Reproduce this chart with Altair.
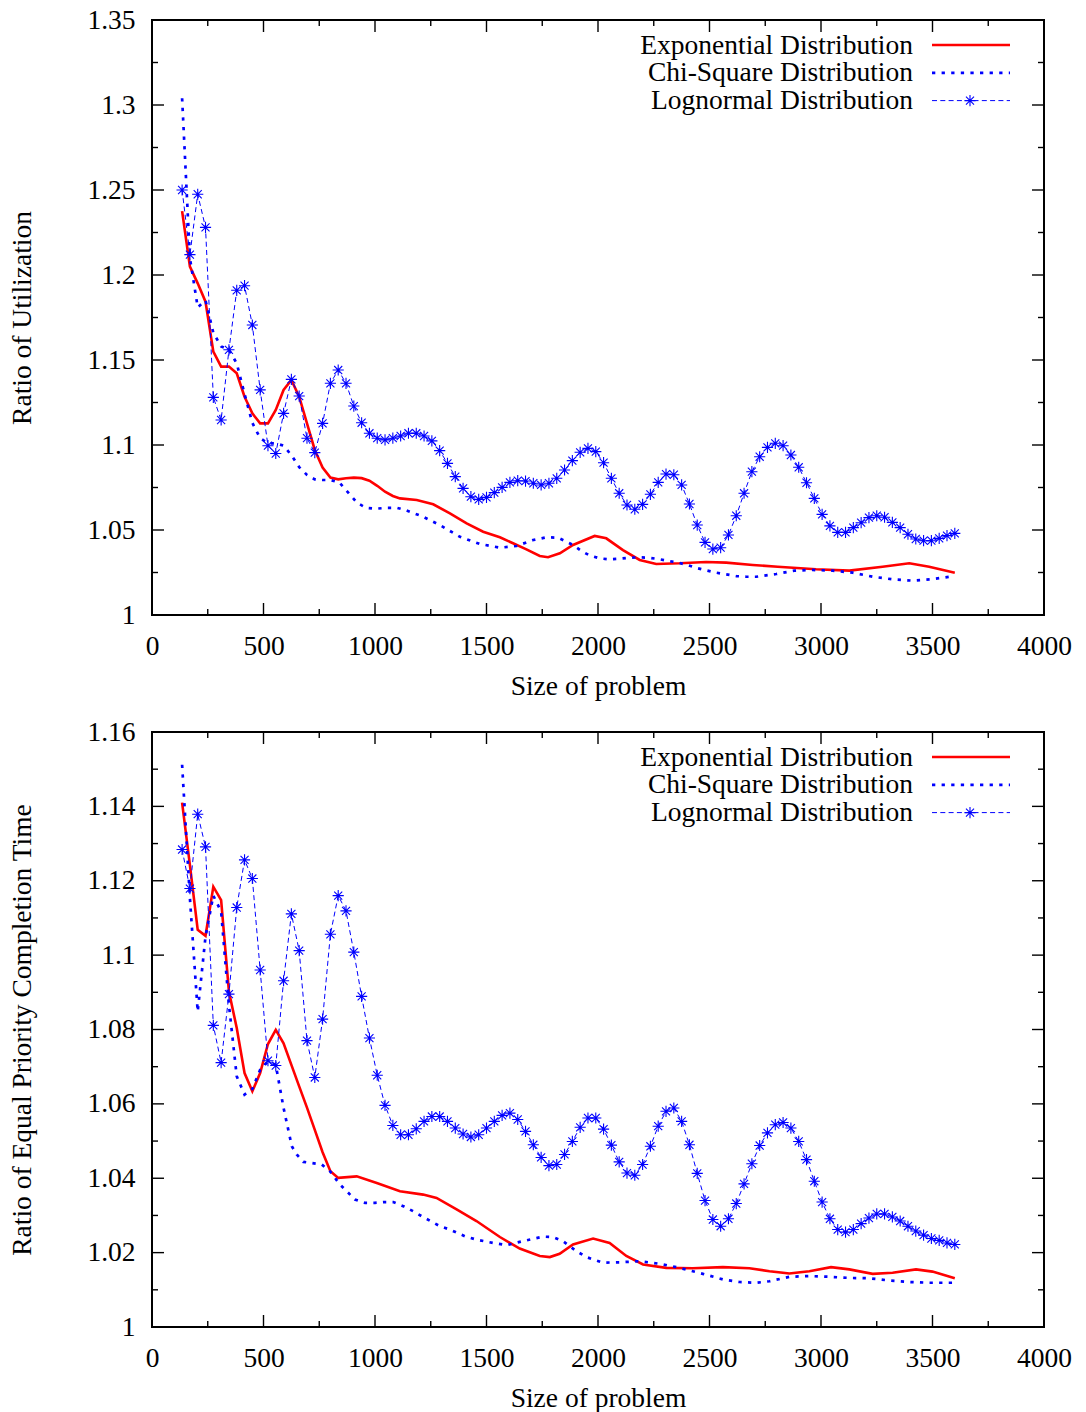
import altair as alt
import pandas as pd

# ---------------- data ----------------
X_GRID = [135, 170, 205, 240, 275, 310, 345, 380, 415, 450, 485, 520, 555, 590, 625,
          660, 695, 730, 765, 800, 835, 870, 905, 940, 975, 1010, 1045, 1080, 1115, 1150,
          1185, 1220, 1255, 1290, 1325, 1360, 1395, 1430, 1465, 1500, 1535, 1570, 1605,
          1640, 1675, 1710, 1745, 1780, 1815, 1850, 1885, 1920, 1955, 1990, 2025, 2060,
          2095, 2130, 2165, 2200, 2235, 2270, 2305, 2340, 2375, 2410, 2445, 2480, 2515,
          2550, 2585, 2620, 2655, 2690, 2725, 2760, 2795, 2830, 2865, 2900, 2935, 2970,
          3005, 3040, 3075, 3110, 3145, 3180, 3215, 3250, 3285, 3320, 3355, 3390, 3425,
          3460, 3495, 3530, 3565, 3600]

SERIES = ["Exponential Distribution", "Chi-Square Distribution", "Lognormal Distribution"]

X_TICKS = [0, 500, 1000, 1500, 2000, 2500, 3000, 3500, 4000]
X_MINOR = [250, 750, 1250, 1750, 2250, 2750, 3250, 3750]

TOP_Y_TICKS = [1, 1.05, 1.1, 1.15, 1.2, 1.25, 1.3, 1.35]
TOP_Y_MINOR = [1.025, 1.075, 1.125, 1.175, 1.225, 1.275, 1.325]
BOT_Y_TICKS = [1, 1.02, 1.04, 1.06, 1.08, 1.1, 1.12, 1.14, 1.16]
BOT_Y_MINOR = [1.01, 1.03, 1.05, 1.07, 1.09, 1.11, 1.13, 1.15]

TOP_TITLE = "Ratio of Utilization"
BOT_TITLE = "Ratio of Equal Priority Completion Time"
X_TITLE = "Size of problem"

# top panel
TOP_EXP_X = [135, 170, 205, 240, 275, 310, 345, 380, 415, 450, 485, 520, 555, 590, 625, 660,
             695, 730, 765, 800, 835, 870, 905, 940, 975, 1010, 1045, 1080, 1112, 1187, 1261,
             1336, 1411, 1485, 1560, 1619, 1679, 1739, 1776, 1829, 1888, 1985, 2037, 2112,
             2187, 2261, 2366, 2485, 2575, 2694, 2806, 2978, 3127, 3276, 3396, 3485, 3600]
TOP_EXP_Y = [1.2376, 1.2049, 1.1951, 1.1843, 1.1549, 1.1461, 1.1461, 1.1422, 1.1284, 1.1186,
             1.1127, 1.1127, 1.1206, 1.1324, 1.1382, 1.1284, 1.1127, 1.0971, 1.0867, 1.0808,
             1.0798, 1.0804, 1.0808, 1.0805, 1.079, 1.076, 1.0725, 1.070, 1.0686, 1.0676,
             1.0651, 1.0598, 1.0539, 1.049, 1.0457, 1.0422, 1.0386, 1.0347, 1.034, 1.0363,
             1.0412, 1.0465, 1.0451, 1.0382, 1.0324, 1.030, 1.0304, 1.0312, 1.0308, 1.0294,
             1.0284, 1.0269, 1.0261, 1.0284, 1.0304, 1.0284, 1.0249]

TOP_CHI_X = [135, 170, 205, 240, 275, 310, 345, 380, 415, 450, 485, 520, 555, 590, 625, 660,
             695, 730, 765, 800, 840, 880, 920, 960, 1000, 1050, 1100, 1134, 1216, 1291, 1381,
             1470, 1560, 1635, 1709, 1769, 1821, 1888, 1926, 1963, 2008, 2052, 2097, 2139,
             2184, 2228, 2272, 2317, 2359, 2400, 2443, 2485, 2530, 2575, 2620, 2665, 2709,
             2754, 2799, 2881, 2963, 3052, 3142, 3232, 3321, 3411, 3493, 3600]
TOP_CHI_Y = [1.304, 1.21, 1.181, 1.185, 1.166, 1.158, 1.156, 1.148, 1.130, 1.113, 1.104,
             1.101, 1.101, 1.0996, 1.094, 1.087, 1.0824, 1.0798, 1.0794, 1.0794, 1.078,
             1.072, 1.066, 1.063, 1.0625, 1.063, 1.063, 1.0618, 1.0578, 1.0529, 1.046,
             1.0418, 1.0396, 1.0406, 1.0441, 1.0457, 1.0455, 1.0412, 1.0376, 1.035, 1.0333,
             1.0327, 1.0331, 1.0337, 1.0339, 1.0337, 1.0329, 1.0318, 1.0308, 1.0294, 1.0276,
             1.0263, 1.0249, 1.0239, 1.0229, 1.0225, 1.0225, 1.0233, 1.0241, 1.0261, 1.0265,
             1.0261, 1.0249, 1.0225, 1.021, 1.0202, 1.021, 1.0229]

TOP_LOG_Y = [1.250, 1.212, 1.2475, 1.228, 1.128, 1.1147, 1.156, 1.191, 1.1937, 1.1706,
             1.1324, 1.0996, 1.095, 1.1186, 1.1386, 1.1288, 1.104, 1.0955, 1.1127, 1.1363,
             1.1441, 1.1363, 1.1229, 1.1131, 1.1069, 1.104, 1.103, 1.104, 1.1053, 1.1069,
             1.1069, 1.1053, 1.1024, 1.0967, 1.0892, 1.0814, 1.0745, 1.0696, 1.068, 1.0692,
             1.072, 1.0751, 1.078, 1.079, 1.0788, 1.0775, 1.0765, 1.0775, 1.0804, 1.0853,
             1.0908, 1.0957, 1.098, 1.0961, 1.0896, 1.0804, 1.0716, 1.0647, 1.0622, 1.0651,
             1.071, 1.078, 1.0829, 1.0825, 1.0765, 1.0653, 1.0529, 1.0427, 1.0388, 1.0396,
             1.0471, 1.0584, 1.0716, 1.0843, 1.0931, 1.0986, 1.101, 1.0996, 1.0941, 1.0869,
             1.0778, 1.0686, 1.0592, 1.0524, 1.0486, 1.0486, 1.0514, 1.0543, 1.0573, 1.0584,
             1.0575, 1.0545, 1.0514, 1.0475, 1.0447, 1.0437, 1.0437, 1.0451, 1.0467, 1.048]

# bottom panel
BOT_EXP_X = [135, 170, 205, 240, 275, 310, 345, 380, 415, 450, 485, 520, 555, 590, 625, 660,
             695, 730, 765, 800, 835, 918, 1008, 1112, 1216, 1276, 1366, 1455, 1560, 1649,
             1739, 1784, 1828, 1888, 1978, 2052, 2127, 2202, 2306, 2425, 2560, 2679, 2769,
             2858, 2948, 3045, 3127, 3232, 3321, 3426, 3500, 3600]
BOT_EXP_Y = [1.141, 1.1242, 1.1068, 1.1052, 1.1184, 1.1148, 1.0902, 1.0804, 1.0683, 1.0634,
             1.0683, 1.0761, 1.0799, 1.0763, 1.0705, 1.0647, 1.059, 1.053, 1.047, 1.0419,
             1.0401, 1.0405, 1.0387, 1.0365, 1.0356, 1.0347, 1.0316, 1.0285, 1.0242, 1.0211,
             1.0191, 1.0188, 1.0197, 1.0222, 1.0238, 1.0226, 1.0191, 1.0168, 1.0159, 1.0158,
             1.0161, 1.0158, 1.015, 1.0144, 1.015, 1.0161, 1.0155, 1.0143, 1.0146, 1.0155,
             1.0149, 1.0131]

BOT_CHI_X = [135, 170, 205, 240, 275, 310, 345, 380, 415, 450, 485, 520, 555, 590, 627, 649,
             679, 716, 761, 798, 843, 880, 910, 955, 1000, 1045, 1082, 1127, 1172, 1209, 1291,
             1336, 1403, 1455, 1530, 1590, 1664, 1754, 1798, 1843, 1903, 1948, 2022, 2097,
             2187, 2276, 2366, 2470, 2560, 2635, 2709, 2769, 2858, 2948, 3038, 3127, 3217,
             3306, 3396, 3485, 3600]
BOT_CHI_Y = [1.1512, 1.1153, 1.0848, 1.105, 1.116, 1.1117, 1.0866, 1.0674, 1.0625, 1.064,
             1.0692, 1.0714, 1.0705, 1.0589, 1.0486, 1.0464, 1.0444, 1.0441, 1.0437, 1.0419,
             1.0383, 1.0361, 1.0343, 1.0334, 1.0334, 1.0336, 1.0336, 1.0325, 1.0311, 1.0298,
             1.0271, 1.0262, 1.0244, 1.0235, 1.0226, 1.022, 1.0231, 1.0243, 1.0242, 1.0231,
             1.0204, 1.0188, 1.0173, 1.0174, 1.0177, 1.017, 1.0159, 1.0143, 1.0128, 1.0121,
             1.0119, 1.0123, 1.0135, 1.0137, 1.0135, 1.0132, 1.0131, 1.0125, 1.0121, 1.0119,
             1.0119]

BOT_LOG_Y = [1.1284, 1.1179, 1.1379, 1.1291, 1.0811, 1.0711, 1.0895, 1.1128, 1.1256, 1.1206,
             1.096, 1.0716, 1.0703, 1.0931, 1.1111, 1.1012, 1.077, 1.0671, 1.0828, 1.1056,
             1.116, 1.1119, 1.1008, 1.0889, 1.0777, 1.0677, 1.0596, 1.0542, 1.0517, 1.0517,
             1.0533, 1.0553, 1.0566, 1.0566, 1.0553, 1.0535, 1.0519, 1.0511, 1.0517, 1.0535,
             1.0553, 1.0569, 1.0575, 1.0558, 1.0526, 1.049, 1.0456, 1.0434, 1.0437, 1.0464,
             1.0499, 1.0537, 1.0562, 1.0562, 1.0532, 1.0489, 1.0444, 1.0414, 1.0408, 1.0437,
             1.0486, 1.054, 1.058, 1.0589, 1.0553, 1.049, 1.0413, 1.034, 1.0289, 1.0271,
             1.0291, 1.0332, 1.0385, 1.0439, 1.0488, 1.0522, 1.0544, 1.055, 1.0535, 1.0499,
             1.045, 1.0392, 1.0336, 1.0291, 1.0262, 1.0255, 1.0262, 1.0278, 1.0293, 1.0304,
             1.0304, 1.0296, 1.0285, 1.0271, 1.0258, 1.0247, 1.0238, 1.0233, 1.0226, 1.0222]

# ---------------- styles ----------------
FONT = "Liberation Serif"
FS = 27.5
RED = "#ff0000"
BLUE = "#0000ff"
W, H = 892, 595
STAR = "M-1,0L1,0M0,-1L0,1M-0.72,-0.72L0.72,0.72M-0.72,0.72L0.72,-0.72"
MAJ, MIN = 12, 6
LEG_TEXT_X, LEG_LINE_X1, LEG_LINE_X2, LEG_STAR_X = 761, 780, 858, 818
LEG_Y = [25, 52.8, 80.6]


def panel(ymax, yticks, yminor, ytitle, ex, ey, cx, cy, ly):
    xs = alt.Scale(domain=[0, 4000], nice=False, zero=False)
    ysc = alt.Scale(domain=[1, ymax], nice=False, zero=False)
    xenc = alt.X("x:Q", scale=xs,
                 axis=alt.Axis(values=X_TICKS, format="d", title=X_TITLE, labelFlush=False))
    yenc = alt.Y("y:Q", scale=ysc,
                 axis=alt.Axis(values=yticks, format="~g", title=ytitle, labelFlush=False))

    layers = []
    layers.append(alt.Chart(pd.DataFrame({"x": ex, "y": ey}))
                  .mark_line(color=RED, strokeWidth=2.6).encode(x=xenc, y=yenc))
    layers.append(alt.Chart(pd.DataFrame({"x": cx, "y": cy}))
                  .mark_line(color=BLUE, strokeWidth=2.7, strokeDash=[3.3, 6.3], strokeCap="butt")
                  .encode(x=xenc, y=yenc))
    logdf = pd.DataFrame({"x": X_GRID, "y": ly})
    layers.append(alt.Chart(logdf).mark_line(color=BLUE, strokeWidth=1, strokeDash=[5, 3.3])
                  .encode(x=xenc, y=yenc))
    layers.append(alt.Chart(logdf).mark_point(shape=STAR, size=125, filled=False, color=BLUE,
                                               strokeWidth=1.1, opacity=1)
                  .encode(x=xenc, y=yenc))

    # inward ticks on all four sides
    for vals, sz in ((X_TICKS, MAJ), (X_MINOR, MIN)):
        df = pd.DataFrame({"x": vals})
        layers.append(alt.Chart(df).mark_tick(orient="vertical", size=sz, thickness=1.4,
                                              color="black", yOffset=-sz / 2, opacity=1)
                      .encode(x=xenc, y=alt.value(H)))
        layers.append(alt.Chart(df).mark_tick(orient="vertical", size=sz, thickness=1.4,
                                              color="black", yOffset=sz / 2, opacity=1)
                      .encode(x=xenc, y=alt.value(0)))
    for vals, sz in ((yticks, MAJ), (yminor, MIN)):
        df = pd.DataFrame({"y": vals})
        layers.append(alt.Chart(df).mark_tick(orient="horizontal", size=sz, thickness=1.4,
                                              color="black", xOffset=sz / 2, opacity=1)
                      .encode(y=yenc, x=alt.value(0)))
        layers.append(alt.Chart(df).mark_tick(orient="horizontal", size=sz, thickness=1.4,
                                              color="black", xOffset=-sz / 2, opacity=1)
                      .encode(y=yenc, x=alt.value(W)))

    # legend (gnuplot style: text right-aligned, sample on the right)
    for k, name in enumerate(SERIES):
        ldf = pd.DataFrame({"name": [name]})
        layers.append(alt.Chart(ldf).mark_text(font=FONT, fontSize=FS, align="right",
                                                baseline="middle", color="black")
                      .encode(text="name:N", x=alt.value(LEG_TEXT_X), y=alt.value(LEG_Y[k] + 0.5)))
        if k == 0:
            rule = alt.Chart(ldf).mark_rule(color=RED, strokeWidth=2.6)
        elif k == 1:
            rule = alt.Chart(ldf).mark_rule(color=BLUE, strokeWidth=2.7, strokeDash=[3.3, 6.3],
                                             strokeCap="butt")
        else:
            rule = alt.Chart(ldf).mark_rule(color=BLUE, strokeWidth=1, strokeDash=[5, 3.3])
        layers.append(rule.encode(x=alt.value(LEG_LINE_X1), x2=alt.value(LEG_LINE_X2),
                                  y=alt.value(LEG_Y[k])))
        if k == 2:
            layers.append(alt.Chart(ldf).mark_point(shape=STAR, size=125, filled=False,
                                                     color=BLUE, strokeWidth=1.1, opacity=1)
                          .encode(x=alt.value(LEG_STAR_X), y=alt.value(LEG_Y[k])))

    return alt.layer(*layers).properties(width=W, height=H)


top = panel(1.35, TOP_Y_TICKS, TOP_Y_MINOR, TOP_TITLE,
            TOP_EXP_X, TOP_EXP_Y, TOP_CHI_X, TOP_CHI_Y, TOP_LOG_Y)
bottom = panel(1.16, BOT_Y_TICKS, BOT_Y_MINOR, BOT_TITLE,
               BOT_EXP_X, BOT_EXP_Y, BOT_CHI_X, BOT_CHI_Y, BOT_LOG_Y)

chart = (
    alt.vconcat(top, bottom, spacing=16)
    .properties(padding={"left": 7, "top": 5, "right": 10, "bottom": 5}, background="white")
    .configure_view(stroke="black", strokeWidth=2)
    .configure_axis(labelFont=FONT, labelFontSize=FS, titleFont=FONT, titleFontSize=FS,
                    titleFontWeight="normal", labelColor="black", titleColor="black",
                    domain=False, ticks=False, tickSize=0, grid=False)
    .configure_axisX(labelPadding=17, titlePadding=13)
    .configure_axisY(labelPadding=17, titlePadding=50)
)

chart.save("out.html", embed_options={"renderer": "svg", "actions": False})
